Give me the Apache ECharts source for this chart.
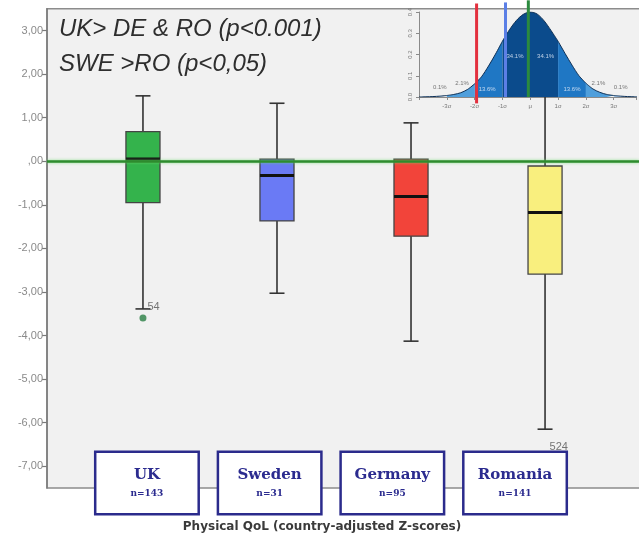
<!DOCTYPE html>
<html><head><meta charset="utf-8">
<script src="https://cdn.jsdelivr.net/npm/echarts@6/dist/echarts.min.js"></script>
<style>html,body{margin:0;padding:0;background:#fff}#c{width:639px;height:541px}</style>
</head><body><div id="c"></div>
<script>
// ---- main box plot data ----
const categories = ['UK', 'Sweden', 'Germany', 'Romania'];
const nValues = [143, 31, 95, 141];
const whiskerLow = [-3.39, -3.03, -4.13, -6.15];
const q1 = [-0.95, -1.37, -1.72, -2.59];
const median = [0.05, -0.33, -0.81, -1.18];
const q3 = [0.68, 0.05, 0.05, -0.11];
const whiskerHigh = [1.50, 1.33, 0.88, 1.50];
const outlierCat = [0, 3];
const outlierVal = [-3.6, -6.8];
const outlierId = ['54', '524'];
const yTicks = [3, 2, 1, 0, -1, -2, -3, -4, -5, -6, -7];
const notes = ['UK> DE & RO (p<0.001)', 'SWE >RO (p<0,05)'];
const axisTitle = 'Physical QoL (country-adjusted Z-scores)';
const boxColors = ['#34b34c', '#6a7af5', '#f2443a', '#f9ef7e'];

// ---- inset (normal curve picture) ----
const curveX = [-4, -3.75, -3.5, -3.25, -3, -2.75, -2.5, -2.25, -2, -1.75, -1.5, -1.25, -1, -0.75, -0.5, -0.25, 0,
                0.25, 0.5, 0.75, 1, 1.25, 1.5, 1.75, 2, 2.25, 2.5, 2.75, 3, 3.25, 3.5, 3.75, 4];
const curveY = [0.000, 0.001, 0.002, 0.004, 0.007, 0.012, 0.020, 0.036, 0.062, 0.096, 0.146, 0.202, 0.263, 0.316, 0.360, 0.389, 0.400,
                0.390, 0.358, 0.312, 0.262, 0.205, 0.150, 0.100, 0.065, 0.038, 0.022, 0.012, 0.007, 0.004, 0.002, 0.001, 0.000];
const bands = [[-4, -3], [-3, -2], [-2, -1], [-1, 1], [1, 2], [2, 3], [3, 4]];
const bandColors = ['#a9cdee', '#4f9fdc', '#1f77c4', '#0b4b8c', '#1f77c4', '#4f9fdc', '#a9cdee'];
const insetTicks = [-3, -2, -1, 0, 1, 2, 3];
const refLineX = [-1.93, -0.89, -0.07];
const refLineTop = [0.44, 0.445, 0.455];
const refLineBottom = [-0.03, 0, 0];
const refLineColors = ['#e3303e', '#5b7fe6', '#2b8a3e'];
const pctText = ['0.1%', '2.1%', '13.6%', '34.1%', '34.1%', '13.6%', '2.1%', '0.1%'];
const pctX = [-3.25, -2.45, -1.55, -0.55, 0.55, 1.5, 2.45, 3.25];
const pctY = [0.047, 0.066, 0.038, 0.19, 0.19, 0.038, 0.066, 0.047];

function yFmt(v) {
  let s = Math.abs(v).toFixed(2).replace('.', ',');
  if (Math.abs(v) < 1) s = s.slice(1);
  return (v < 0 ? '-' : '') + s;
}

const chart = echarts.init(document.getElementById('c'));

function renderBox(params, api) {
  const i = api.value(0);
  const pLo = api.coord([i, api.value(1)]);
  const pQ1 = api.coord([i, api.value(2)]);
  const pMed = api.coord([i, api.value(3)]);
  const pQ3 = api.coord([i, api.value(4)]);
  const pHi = api.coord([i, api.value(5)]);
  const bw = api.size([0.254, 0])[0];
  const cw = 15;
  const cx = pLo[0];
  const ls = { stroke: '#333', lineWidth: 1.6 };
  return {
    type: 'group', children: [
      { type: 'line', shape: { x1: cx, y1: pLo[1], x2: cx, y2: pHi[1] }, style: ls },
      { type: 'line', shape: { x1: cx - cw / 2, y1: pLo[1], x2: cx + cw / 2, y2: pLo[1] }, style: ls },
      { type: 'line', shape: { x1: cx - cw / 2, y1: pHi[1], x2: cx + cw / 2, y2: pHi[1] }, style: ls },
      { type: 'rect', shape: { x: cx - bw / 2, y: pQ3[1], width: bw, height: pQ1[1] - pQ3[1] },
        style: { fill: boxColors[params.dataIndex], stroke: '#444', lineWidth: 1.3 } },
      { type: 'line', shape: { x1: cx - bw / 2, y1: pMed[1], x2: cx + bw / 2, y2: pMed[1] },
        style: { stroke: '#111', lineWidth: 3 } }
    ]
  };
}

function renderRef(params, api) {
  const a = api.coord([api.value(0), api.value(1)]);
  const b = api.coord([api.value(0), api.value(2)]);
  return { type: 'line', shape: { x1: a[0], y1: a[1], x2: b[0], y2: b[1] },
    style: { stroke: refLineColors[params.dataIndex], lineWidth: 3 } };
}

const bandSeries = bands.map((bd, k) => ({
  type: 'line', xAxisIndex: 2, yAxisIndex: 2, z: 5,
  symbol: 'none', smooth: 0.3, silent: true,
  data: curveX.map((x, j) => [x, curveY[j]]).filter(p => p[0] >= bd[0] && p[0] <= bd[1]),
  lineStyle: { color: '#0d2f55', width: 1 },
  areaStyle: { color: bandColors[k], opacity: 1 }
}));

const option = {
  animation: false,
  backgroundColor: '#ffffff',
  grid: [
    { left: 47, right: 0, top: 8.7, bottom: 53 },
    { left: 85.6, right: 62.6, top: 440, height: 10 },
    { left: 419, right: 0, top: 12, height: 85 }
  ],
  xAxis: [
    { gridIndex: 0, type: 'value', min: -0.716, max: 3.701, show: false },
    { gridIndex: 1, type: 'category', data: categories, position: 'bottom', z: 10,
      axisLine: { show: false }, axisTick: { show: false },
      axisLabel: {
        interval: 0, margin: 3,
        formatter: (v, idx) => '{t|' + v + '}\n{n|n=' + nValues[idx] + '}',
        backgroundColor: '#ffffff', borderColor: '#2b2b8c', borderWidth: 2.5,
        padding: [11, 2, 11, 2], width: 97, align: 'center',
        rich: {
          t: { fontFamily: 'DejaVu Serif', fontWeight: 'bold', fontSize: 15, color: '#2b2b8f', lineHeight: 22, align: 'center' },
          n: { fontFamily: 'DejaVu Serif', fontWeight: 'bold', fontSize: 9, color: '#2b2b8f', lineHeight: 16, align: 'center' }
        }
      } },
    { gridIndex: 2, type: 'value', min: -4, max: 3.8, interval: 1,
      axisLine: { show: true, onZero: false, lineStyle: { color: '#8a8a8a', width: 1 } },
      axisTick: { show: true, length: 3, lineStyle: { color: '#8a8a8a' } },
      splitLine: { show: false },
      axisLabel: { fontSize: 6, color: '#777', margin: 6,
        formatter: v => (insetTicks.indexOf(v) < 0 ? '' : (v === 0 ? 'μ' : v + 'σ')) } }
  ],
  yAxis: [
    { gridIndex: 0, type: 'value', min: -7.5, max: 3.5,
      axisLine: { show: true, onZero: false, lineStyle: { color: '#7a7a7a', width: 1.5 } },
      axisTick: { show: true, length: 5, customValues: yTicks, lineStyle: { color: '#7a7a7a', width: 1.2 } },
      axisLabel: { customValues: yTicks, formatter: yFmt, color: '#8a8a8a', fontSize: 11, margin: 4, fontFamily: 'Liberation Sans' },
      splitLine: { show: false } },
    { gridIndex: 1, type: 'value', show: false },
    { gridIndex: 2, type: 'value', min: 0, max: 0.4, interval: 0.1,
      axisLine: { show: true, onZero: false, lineStyle: { color: '#8a8a8a', width: 1 } },
      axisTick: { show: true, length: 3, lineStyle: { color: '#8a8a8a' } },
      splitLine: { show: false },
      axisLabel: { rotate: 90, fontSize: 6, color: '#777', margin: 6, formatter: v => v.toFixed(1) } }
  ],
  graphic: [
    { type: 'rect', z: -10, silent: true, shape: { x: 47, y: 8.7, width: 600, height: 479.3 },
      style: { fill: '#f1f1f1', stroke: '#8c8c8c', lineWidth: 1.5 } },
    { type: 'text', x: 59, y: 29, z: 20, style: { text: notes[0], fontStyle: 'italic', fontSize: 24, fontFamily: 'Liberation Sans', fill: '#2e2e2e', verticalAlign: 'middle', align: 'left' } },
    { type: 'text', x: 59, y: 64, z: 20, style: { text: notes[1], fontStyle: 'italic', fontSize: 24, fontFamily: 'Liberation Sans', fill: '#2e2e2e', verticalAlign: 'middle', align: 'left' } },
    { type: 'text', x: 322, y: 527, z: 20, style: { text: axisTitle, fontSize: 12, fontWeight: 'bold', fontFamily: 'DejaVu Sans', fill: '#3a3a3a', verticalAlign: 'middle', align: 'center' } }
  ],
  series: [
    { type: 'custom', xAxisIndex: 0, yAxisIndex: 0, z: 2, clip: false,
      renderItem: renderBox,
      encode: { x: 0, y: [1, 2, 3, 4, 5] },
      data: categories.map((c, i) => [i, whiskerLow[i], q1[i], median[i], q3[i], whiskerHigh[i]]),
      markLine: { silent: true, symbol: 'none', label: { show: false },
        data: [{ yAxis: 0 }],
        lineStyle: { color: '#2e8b2e', width: 2.5, type: 'solid', shadowColor: 'rgba(110,220,110,0.8)', shadowBlur: 3 } } },
    { type: 'scatter', xAxisIndex: 0, yAxisIndex: 0, z: 3, symbolSize: 7,
      data: outlierCat.map((c, k) => ({ value: [c, outlierVal[k]], name: outlierId[k], itemStyle: { color: c === 0 ? '#2a7f45' : '#d8cf6a' } })),
      label: { show: true, formatter: '{b}', position: 'right', distance: 1, offset: [0, -11], fontSize: 11, color: '#555', fontFamily: 'Liberation Sans' } },
    ...bandSeries,
    { type: 'custom', xAxisIndex: 2, yAxisIndex: 2, z: 6, clip: false,
      renderItem: renderRef,
      encode: { x: 0, y: [1, 2] },
      data: refLineX.map((x, i) => [x, refLineBottom[i], refLineTop[i]]) },
    { type: 'scatter', xAxisIndex: 2, yAxisIndex: 2, z: 7, symbolSize: 1, silent: true,
      itemStyle: { color: 'transparent' },
      data: pctX.map((x, i) => ({ value: [x, pctY[i]], label: { color: (i >= 2 && i <= 5) ? '#e6eefa' : '#555' } })),
      label: { show: true, position: 'inside', fontSize: 6, formatter: p => pctText[p.dataIndex] } }
  ]
};
chart.setOption(option);
</script>
</body></html>
